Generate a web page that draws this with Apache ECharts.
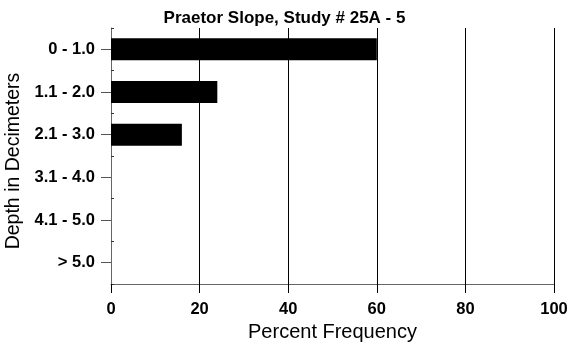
<!DOCTYPE html>
<html>
<head>
<meta charset="utf-8">
<script src="https://cdn.jsdelivr.net/npm/echarts@6/dist/echarts.min.js"></script>
<style>html,body{margin:0;padding:0;background:#fff}#c{width:569px;height:350px}</style>
</head>
<body>
<div id="c"></div>
<script>
const categories = ['0 - 1.0', '1.1 - 2.0', '2.1 - 3.0', '3.1 - 4.0', '4.1 - 5.0', '> 5.0'];
const percentFrequency = [60, 24, 16, 0, 0, 0];
const xTicks = [0, 20, 40, 60, 80, 100];

const chart = echarts.init(document.getElementById('c'), null, {renderer: 'canvas'});
const font = 'Liberation Sans, Arial, sans-serif';
chart.setOption({
  animation: false,
  backgroundColor: '#fff',
  title: {
    text: 'Praetor Slope, Study # 25A - 5',
    left: 'center', top: 5,
    textStyle: {fontFamily: font, fontSize: 17, fontWeight: 'bold', color: '#000'}
  },
  grid: {left: 111, right: 15, top: 28, bottom: 66, containLabel: false, outerBoundsMode: 'none'},
  xAxis: {
    type: 'value', min: xTicks[0], max: xTicks[xTicks.length - 1], interval: 20,
    axisLine: {show: true, lineStyle: {color: '#666', width: 1}},
    axisTick: {show: true, length: 9, lineStyle: {color: '#000'}},
    splitLine: {show: true, lineStyle: {color: '#000', width: 1}},
    axisLabel: {margin: 17, fontFamily: font, fontSize: 16.5, fontWeight: 'bold', color: '#000'},
    name: 'Percent Frequency', nameLocation: 'middle', nameGap: 31,
    nameTextStyle: {fontFamily: font, fontSize: 20, color: '#000'}
  },
  yAxis: [{
    type: 'category', data: categories, inverse: true,
    axisLine: {show: true, lineStyle: {color: '#666', width: 1}},
    axisTick: {show: true, alignWithLabel: true, length: 10, lineStyle: {color: '#555'}},
    axisLabel: {margin: 16, fontFamily: font, fontSize: 16.5, fontWeight: 'bold', color: '#000'},
    name: 'Depth in Decimeters', nameLocation: 'middle', nameRotate: 90, nameGap: 81,
    nameTextStyle: {fontFamily: font, fontSize: 19.5, color: '#000', padding: [0, 10, 0, 0]}
  }, {
    type: 'category', data: categories, inverse: true, position: 'left',
    axisLine: {show: false},
    axisTick: {show: true, inside: true, alignWithLabel: false, length: 3, lineStyle: {color: '#333'}},
    axisLabel: {show: false}
  }],
  series: [{
    type: 'bar', data: percentFrequency, barWidth: 22,
    itemStyle: {color: '#000'}
  }]
});
</script>
</body>
</html>
